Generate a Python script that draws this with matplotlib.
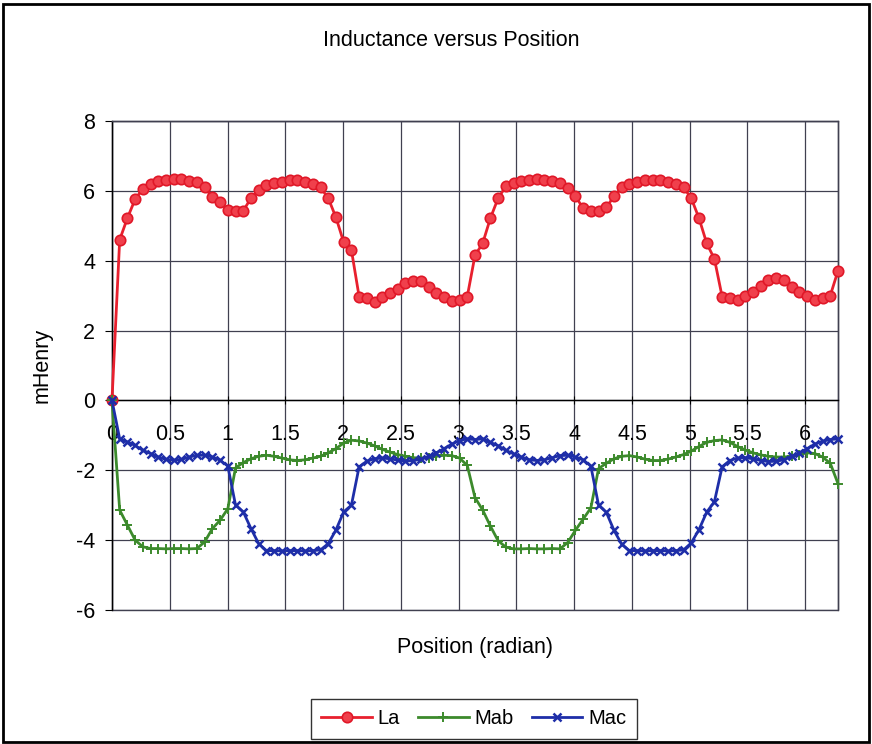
import matplotlib.pyplot as plt
from matplotlib.patches import Rectangle
import numpy as np

plt.rcParams['font.family'] = ['Liberation Sans', 'DejaVu Sans']
plt.rcParams['axes.unicode_minus'] = False

# rotor position samples, 0 .. 2*pi
position = np.linspace(0, 2 * np.pi, 95)

# self inductance of phase a (mH)
la = [0.00, 4.60, 5.22, 5.76, 6.06, 6.19, 6.27, 6.32, 6.34, 6.34,
      6.29, 6.25, 6.10, 5.81, 5.68, 5.44, 5.43, 5.43, 5.79, 6.03,
      6.17, 6.22, 6.26, 6.30, 6.30, 6.26, 6.19, 6.10, 5.79, 5.24,
      4.53, 4.31, 2.97, 2.94, 2.83, 2.97, 3.07, 3.20, 3.36, 3.43,
      3.41, 3.24, 3.07, 2.97, 2.85, 2.88, 2.97, 4.15, 4.50, 5.22,
      5.79, 6.13, 6.22, 6.29, 6.32, 6.34, 6.32, 6.29, 6.22, 6.08,
      5.84, 5.51, 5.41, 5.41, 5.53, 5.84, 6.10, 6.19, 6.26, 6.30,
      6.30, 6.30, 6.25, 6.19, 6.10, 5.79, 5.22, 4.50, 4.05, 2.97,
      2.94, 2.87, 3.00, 3.10, 3.27, 3.46, 3.50, 3.46, 3.26, 3.09,
      3.00, 2.87, 2.94, 3.00, 3.71]

# mutual inductance a-b (mH)
mab = [0.00, -3.14, -3.57, -4.00, -4.19, -4.24, -4.24, -4.25, -4.24, -4.24,
       -4.25, -4.24, -4.05, -3.67, -3.43, -3.10, -1.93, -1.78, -1.67, -1.60,
       -1.57, -1.60, -1.65, -1.70, -1.72, -1.70, -1.65, -1.60, -1.50, -1.38,
       -1.22, -1.14, -1.16, -1.22, -1.30, -1.40, -1.48, -1.55, -1.60, -1.64,
       -1.65, -1.64, -1.60, -1.57, -1.58, -1.65, -1.86, -2.78, -3.14, -3.60,
       -4.02, -4.20, -4.25, -4.25, -4.24, -4.25, -4.25, -4.24, -4.25, -4.07,
       -3.72, -3.40, -3.08, -1.95, -1.80, -1.67, -1.60, -1.58, -1.62, -1.68,
       -1.72, -1.72, -1.68, -1.62, -1.55, -1.45, -1.32, -1.20, -1.15, -1.13,
       -1.20, -1.32, -1.42, -1.50, -1.56, -1.60, -1.62, -1.62, -1.60, -1.55,
       -1.50, -1.52, -1.62, -1.80, -2.38]

# mutual inductance a-c (mH)
mac = [0.00, -1.10, -1.19, -1.29, -1.43, -1.52, -1.62, -1.69, -1.71, -1.69,
       -1.62, -1.57, -1.57, -1.62, -1.71, -1.88, -3.00, -3.19, -3.67, -4.10,
       -4.30, -4.30, -4.31, -4.30, -4.30, -4.31, -4.30, -4.28, -4.10, -3.71,
       -3.19, -3.00, -1.90, -1.74, -1.67, -1.65, -1.67, -1.71, -1.74, -1.72,
       -1.69, -1.60, -1.50, -1.38, -1.25, -1.15, -1.10, -1.12, -1.10, -1.20,
       -1.30, -1.43, -1.53, -1.62, -1.70, -1.72, -1.70, -1.64, -1.58, -1.57,
       -1.62, -1.70, -1.88, -3.00, -3.20, -3.72, -4.12, -4.30, -4.30, -4.31,
       -4.30, -4.30, -4.31, -4.30, -4.28, -4.08, -3.70, -3.20, -2.90, -1.90,
       -1.72, -1.65, -1.64, -1.67, -1.72, -1.75, -1.74, -1.70, -1.60, -1.50,
       -1.38, -1.25, -1.17, -1.12, -1.10]

x_ticks = np.arange(0, 6.01, 0.5)
x_labels = ['0', '0.5', '1', '1.5', '2', '2.5', '3', '3.5', '4', '4.5', '5', '5.5', '6']
y_ticks = np.arange(-6, 8.01, 2)

fig = plt.figure(figsize=(8.72, 7.44), dpi=100)
ax = fig.add_axes([0.1284, 0.1801, 0.8326, 0.6573])

grid_col = '#404050'
ax.plot(position, la, color='#e8202e', lw=2.0, marker='o', ms=7.5,
        mfc='#f0404c', mec='#e01828', mew=1.2, label='La', zorder=3, clip_on=False)
ax.plot(position, mab, color='#3c8a2c', lw=2.0, marker='+', ms=7, mew=1.4,
        label='Mab', zorder=4, clip_on=False)
ax.plot(position, mac, color='#1e2ea8', lw=2.0, marker='x', ms=5.5, mew=1.8,
        label='Mac', zorder=5, clip_on=False)

ax.set_xlim(0, 2 * np.pi)
ax.set_ylim(-6, 8)
ax.set_xticks(x_ticks)
ax.set_xticklabels(x_labels)
ax.set_yticks(y_ticks)
ax.grid(True, color=grid_col, lw=0.9)
ax.set_axisbelow(True)

# x axis runs through zero like the spreadsheet default
ax.spines['bottom'].set_position(('data', 0))
ax.spines['bottom'].set_color('black')
ax.spines['left'].set_color('black')
ax.spines['top'].set_color(grid_col)
ax.spines['right'].set_color(grid_col)
for s in ax.spines.values():
    s.set_linewidth(1.0)
# plot area frame (bottom edge at -6)
ax.add_patch(Rectangle((0, 0), 1, 1, transform=ax.transAxes, fill=False,
                       edgecolor=grid_col, lw=1.0, clip_on=False, zorder=1))

ax.tick_params(axis='x', direction='inout', length=6, pad=14, labelsize=15.5)
ax.tick_params(axis='y', direction='out', length=5, pad=7, labelsize=15.5)

ax.set_ylabel('mHenry', fontsize=15.5, labelpad=17)
ax.text(0.5, -0.077, 'Position (radian)', transform=ax.transAxes,
        ha='center', va='center', fontsize=15.5)
fig.text(451 / 872, 1 - 40 / 744, 'Inductance versus Position',
         ha='center', va='center', fontsize=15.5)

leg = fig.legend(loc='center', bbox_to_anchor=(474 / 872, 1 - 719 / 744),
                 ncol=3, fontsize=14.5, frameon=True, fancybox=False,
                 edgecolor='black', handlelength=2.5, columnspacing=0.9,
                 handletextpad=0.3, borderpad=0.5)
leg.get_frame().set_linewidth(1.0)

# chart area border
fig.patches.append(Rectangle((0.003, 0.003), 0.994, 0.992, transform=fig.transFigure,
                             fill=False, edgecolor='black', lw=2))

fig.savefig('out.png', dpi=100)
